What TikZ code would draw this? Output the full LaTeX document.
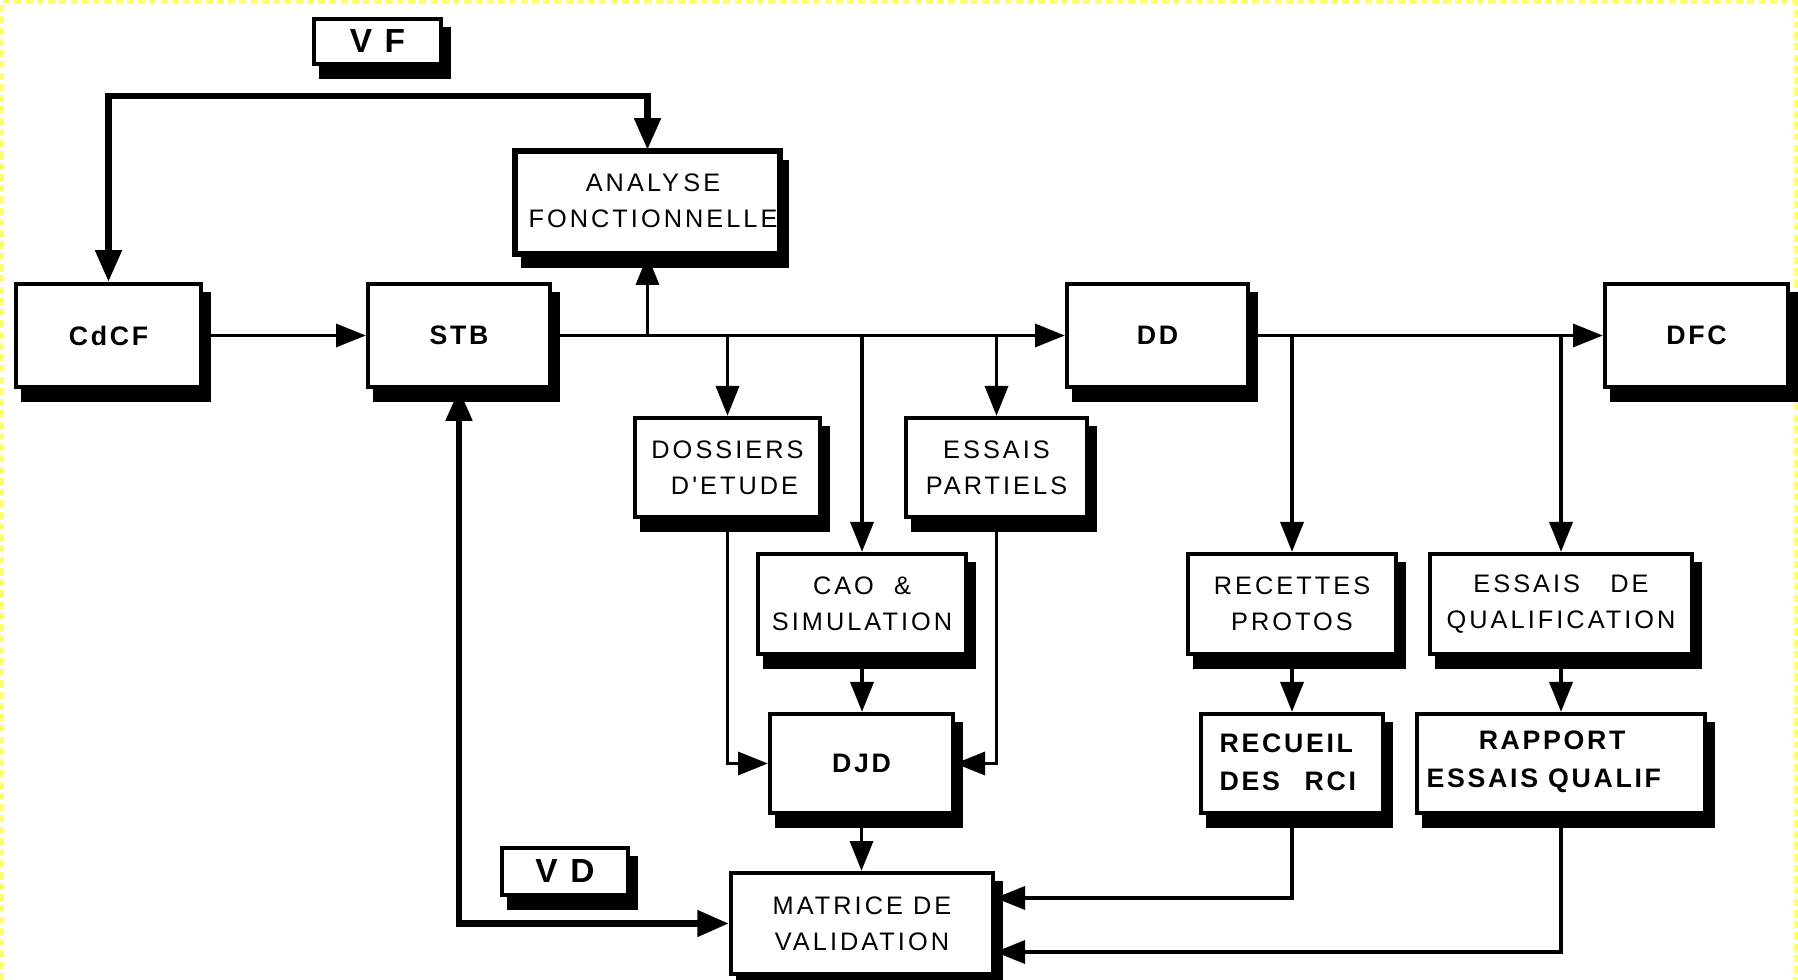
\documentclass[tikz,border=0pt]{standalone}
\usepackage{fontspec}
\setmainfont{Liberation Sans}
\newfontfamily\regf[LetterSpace=12]{Liberation Sans}
\newfontfamily\bldf[LetterSpace=10]{Liberation Sans}
\usetikzlibrary{arrows.meta,calc}
\definecolor{bordyel}{RGB}{255,255,110}
\tikzset{
  bx/.style={draw, line width=1.2pt, fill=white, inner sep=0pt},
  conn/.style={line width=1.1pt, -{Triangle[length=8.5pt,width=6.5pt]}},
  tconn/.style={line width=1.9pt, {Triangle[length=9pt,width=7.2pt]}-{Triangle[length=9pt,width=7.2pt]}},
  rtxt/.style={font=\regf\fontsize{7.2}{10.2}\selectfont, align=center, inner sep=0pt},
  btxt/.style={font=\bldf\bfseries\fontsize{7.6}{10.8}\selectfont, align=center, inner sep=0pt},
  vtxt/.style={font=\bldf\bfseries\fontsize{9.5}{11}\selectfont, inner sep=0pt},
  yelborder/.style={draw=bordyel, line width=1.2pt, dash pattern=on 2pt off 1.2pt},
}
% name, x1, y1, x2, y2, text style, text
\newcommand{\shbox}[7]{%
  \fill (#2+7,#3+10) rectangle (#4+8,#5+13);
  \node[bx, minimum width={(#4-#2-4)*0.01cm}, minimum height={(#5-#3-4)*0.01cm}, #6] (#1) at ({(#2+#4)/2},{(#3+#5)/2}) {#7};
}
\begin{document}
\begin{tikzpicture}[x=0.01cm, y=-0.01cm]
\useasboundingbox (0,0) rectangle (1798,980);
\draw[yelborder] (2,980) -- (2,2) -- (1796,2) -- (1796,980);

% boxes
\shbox{vf}{312}{17}{443}{66}{vtxt}{V~F}
\shbox{ana}{514}{150}{781}{255}{}{}
\begin{scope}
  \clip (ana.south west) rectangle (ana.north east);
  \node[rtxt] (anatxt) at (653,201) {ANALY\,SE\\FONCTIONNELLE};
\end{scope}
\draw[line width=1.2pt] (ana.south west) rectangle (ana.north east);

\shbox{cdcf}{14}{282}{203}{389}{btxt}{CdCF}
\shbox{stb}{366}{282}{552}{389}{btxt}{STB}
\shbox{dd}{1065}{282}{1250}{389}{btxt}{DD}
\shbox{dfc}{1603}{282}{1790}{389}{btxt}{DFC}
\shbox{dos}{633}{416}{822}{519}{rtxt}{DOSSIERS\\\hspace*{4pt}D'ETUDE}
\shbox{ess}{904}{416}{1089}{519}{rtxt}{ESSAIS\\PARTIELS}
\shbox{cao}{756}{552}{968}{656}{rtxt}{CAO~~\&\\SIMULATION}
\shbox{djd}{768}{712}{955}{815}{btxt}{DJD}
\shbox{mat}{729}{871}{995}{976}{rtxt}{MATRICE DE\\VALIDATION}
\shbox{vd}{500}{846}{630}{897}{vtxt}{V~D}
\shbox{rec}{1186}{552}{1398}{656}{rtxt}{RECETTES\\PROTOS}
\shbox{qual}{1428}{552}{1694}{656}{rtxt}{ESSAIS~~~DE\\QUALIFICATION}
\shbox{recu}{1199}{712}{1385}{815}{}{}
\node[btxt, align=left, anchor=west] (recutxt) at (1219,762) {RECUEIL\\DES\hspace{7pt}RCI};
\shbox{rap}{1415}{712}{1707}{815}{}{}
\node[btxt, align=left, anchor=west] (raptxt) at (1426,762) {\hspace*{0.52cm}RAPPORT\\ESSAIS QUALIF};

% junctions on the main lines
\coordinate (j1) at (stb.east -| ana.south);
\coordinate (j2) at (stb.east -| dos.north);
\coordinate (j3) at (stb.east -| cao.north);
\coordinate (j4) at (stb.east -| ess.north);
\coordinate (k1) at (dd.east -| rec.north);
\coordinate (k2) at (dd.east -| qual.north);

% connectors
\draw[conn] (cdcf.east) -- (stb.west);
\draw[conn] (stb.east) -- (dd.west);
\draw[conn] (j1) -- (ana.south);
\draw[conn] (j2) -- (dos.north);
\draw[conn] (j3) -- (cao.north);
\draw[conn] (j4) -- (ess.north);
\draw[conn] (dd.east) -- (dfc.west);
\draw[conn] (k1) -- (rec.north);
\draw[conn] (k2) -- (qual.north);
\draw[conn] (dos.south) |- (djd.west);
\draw[conn] (ess.south) |- (djd.east);
\draw[conn] (cao.south) -- (cao.south |- djd.north);
\draw[conn] (djd.south) -- (djd.south |- mat.north);
\draw[conn] (rec.south) -- (rec.south |- recu.north);
\draw[conn] (qual.south) -- (qual.south |- rap.north);
\draw[conn] (recu.south) |- ([yshift=2.55mm]mat.east);
\draw[conn] (rap.south) |- ([yshift=-2.85mm]mat.east);
\draw[tconn] (stb.south) |- (mat.west);
\draw[tconn] (cdcf.north) |- ([yshift=5.4mm]ana.north) -- (ana.north);
\end{tikzpicture}
\end{document}
